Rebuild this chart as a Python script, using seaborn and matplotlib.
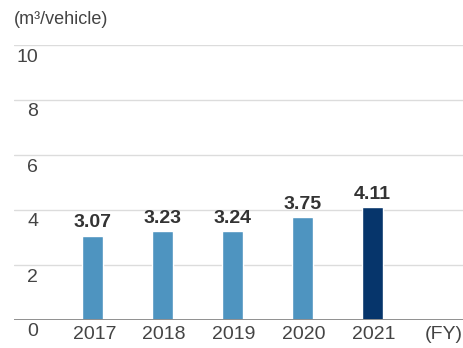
import matplotlib
matplotlib.use("Agg")
import matplotlib.pyplot as plt
import matplotlib.transforms as mtransforms
import seaborn as sns
import pandas as pd

# Water usage per vehicle produced, by fiscal year
years = ["2017", "2018", "2019", "2020", "2021"]
values = [3.07, 3.23, 3.24, 3.75, 4.11]
bar_colors = ["#4E94C0", "#4E94C0", "#4E94C0", "#4E94C0", "#06356B"]
y_ticks = [0, 2, 4, 6, 8, 10]
unit_label = "(m³/vehicle)"
fy_label = "(FY)"

sns.set_theme(style="white")
plt.rcParams["font.family"] = ["Liberation Sans", "DejaVu Sans"]

df = pd.DataFrame({"year": years, "value": values})

W, H = 463, 348
fig = plt.figure(figsize=(W / 100, H / 100), dpi=100)
ax = fig.add_axes([14 / W, (H - 320) / H, (W - 14) / W, 275 / H])

sns.barplot(data=df, x="year", y="value", hue="year", order=years,
            palette=bar_colors, width=0.30, legend=False, ax=ax,
            saturation=1)

ax.set_xlim(-1.13, 5.3)
ax.set_ylim(0, 10)

# horizontal grid
for t in y_ticks:
    if t == 0:
        ax.axhline(t, color="#8f8f8f", lw=1.4, zorder=3)
    else:
        ax.axhline(t, color="#dcdcdc", lw=1.0, zorder=0)

for s in ax.spines.values():
    s.set_visible(False)
ax.set_xticks([])
ax.set_yticks([])
ax.set_xlabel("")
ax.set_ylabel("")

text_col = "#444444"
fs = 14
# y tick labels sit just under their gridline at the left edge
ylab_trans = mtransforms.offset_copy(
    mtransforms.blended_transform_factory(fig.transFigure, ax.transData),
    fig=fig, x=0, y=-12, units="dots")
for t in y_ticks:
    ax.text(38 / W, t, str(t), transform=ylab_trans, ha="right", va="center",
            fontsize=fs, color=text_col)

# category labels below the baseline
xlab_trans = mtransforms.offset_copy(
    mtransforms.blended_transform_factory(ax.transData, ax.transData),
    fig=fig, x=1.5, y=-14.5, units="dots")
for i, yr in enumerate(years):
    ax.text(i, 0, yr, transform=xlab_trans, ha="center", va="center",
            fontsize=fs, color=text_col)
ax.text(5, 0, fy_label, transform=xlab_trans, ha="center", va="center",
        fontsize=fs, color=text_col)

# value labels above bars
for i, v in enumerate(values):
    ax.annotate(f"{v:.2f}", (i, v), xytext=(0, 3), textcoords="offset points",
                ha="center", va="bottom", fontsize=14, fontweight="bold",
                color="#333333")

fig.text(14 / W, 1 - 20 / H, unit_label, ha="left", va="center",
         fontsize=13, color=text_col)

fig.savefig("out.png", dpi=100, facecolor="white")
